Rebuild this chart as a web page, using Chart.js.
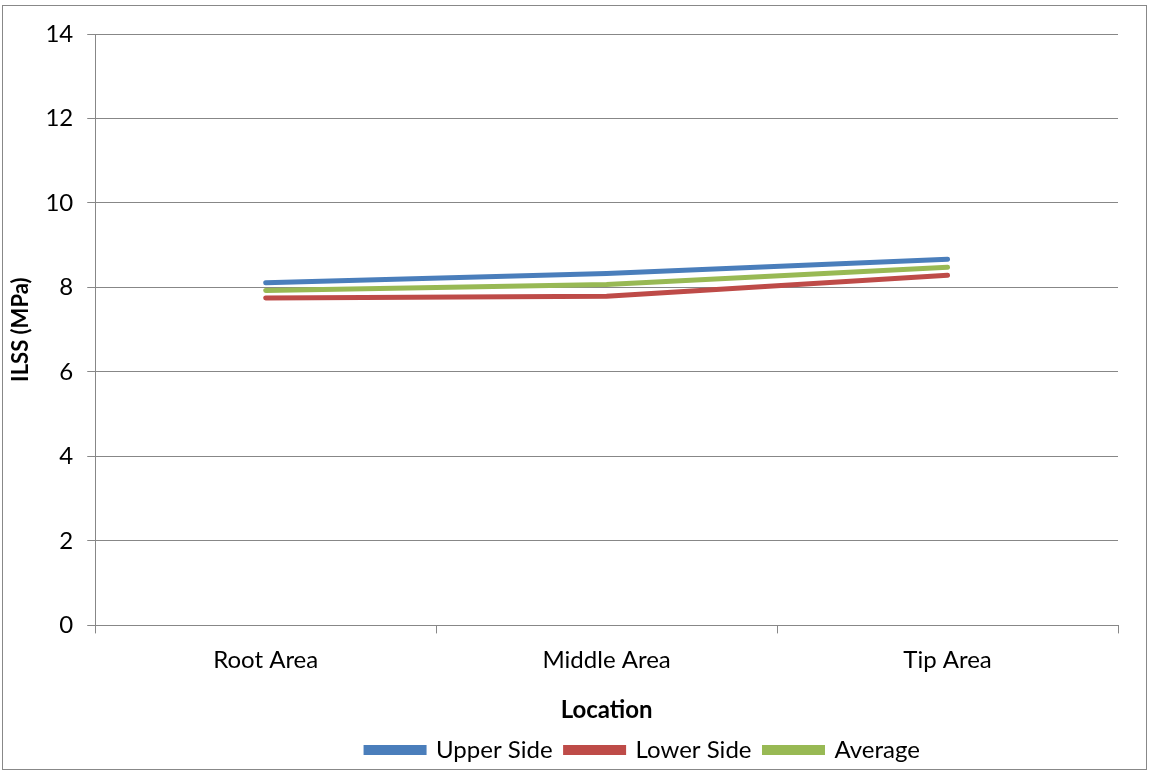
<!DOCTYPE html>
<html>
<head>
<meta charset="utf-8">
<script src="https://cdn.jsdelivr.net/npm/chart.js@4"></script>
<style>
    html, body { margin: 0; padding: 0; background: #fff; }
    #wrap { position: absolute; left: 2px; top: 5px; width: 1145px; height: 765px; border: 1px solid #888; box-sizing: border-box; }
    #c { position: absolute; left: 0; top: 0; }
</style>
</head>
<body>
<div id="wrap"></div>
<canvas id="c" width="1149" height="772"></canvas>
<script>
// values
const locations = ['Root Area', 'Middle Area', 'Tip Area'];
const upperSide = [8.11, 8.33, 8.67];
const lowerSide = [7.75, 7.79, 8.29];
const average = [7.93, 8.07, 8.48];
const yTicks = [0, 2, 4, 6, 8, 10, 12, 14];

const font = 'Lato, Carlito, sans-serif';
const grey = '#878787';

const ctx = document.getElementById('c').getContext('2d');

function series(label, data, color) {
    return {
        label: label,
        data: data,
        borderColor: color,
        backgroundColor: color,
        borderWidth: 5,
        pointRadius: 0,
        tension: 0,
        borderCapStyle: 'round'
    };
}

// the legend sits a bit right of centre in the original
const shiftLegend = {
    id: 'shiftLegend',
    afterLayout: function(chart) {
        chart.legend.left += 80;
        chart.legend.right += 80;
    }
};

new Chart(ctx, {
    type: 'line',
    data: {
        labels: locations,
        datasets: [
            series('Upper Side', upperSide, '#4A7EBB'),
            series('Lower Side', lowerSide, '#BE4B48'),
            series('Average', average, '#98B954')
        ]
    },
    plugins: [shiftLegend],
    options: {
        responsive: false,
        animation: false,
        layout: { padding: { left: 8, right: 31, top: 34, bottom: 0 } },
        plugins: {
            tooltip: { enabled: false },
            legend: {
                position: 'bottom',
                labels: {
                    font: { family: font, size: 24 },
                    color: '#000',
                    boxWidth: 58,
                    boxHeight: 5,
                    padding: 13
                }
            }
        },
        scales: {
            x: {
                offset: true,
                grid: { offset: true, drawOnChartArea: false, color: grey, tickLength: 8 },
                border: { color: grey },
                ticks: { font: { family: font, size: 24 }, color: '#000', padding: 12 },
                title: {
                    display: true,
                    text: 'Location',
                    font: { family: font, size: 24, weight: 'bold' },
                    color: '#000',
                    padding: { top: 10, bottom: 0 }
                }
            },
            y: {
                min: 0,
                max: 14,
                afterBuildTicks: function(axis) {
                    axis.ticks = yTicks.map(v => ({ value: v }));
                },
                grid: { color: grey, tickLength: 8 },
                border: { color: grey },
                ticks: { font: { family: font, size: 24 }, color: '#000', padding: 14 },
                title: {
                    display: true,
                    text: 'ILSS (MPa)',
                    font: { family: font, size: 22, weight: 'bold' },
                    color: '#000',
                    padding: { top: 0, bottom: -3 }
                }
            }
        }
    }
});
</script>
</body>
</html>
